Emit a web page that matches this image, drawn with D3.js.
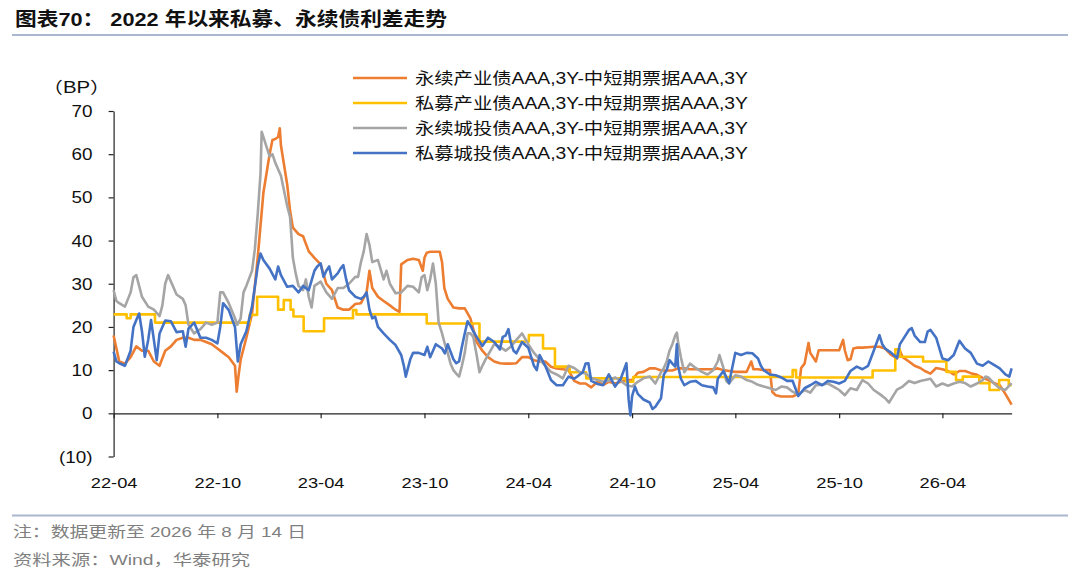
<!DOCTYPE html>
<html><head><meta charset="utf-8">
<script src="https://cdn.jsdelivr.net/npm/d3@7/dist/d3.min.js"></script>
<style>body{margin:0;background:#fff}svg{display:block}</style>
</head><body>
<svg id="chart" width="1080" height="577"></svg>
<script>
const titleText = "图表70： 2022 年以来私募、永续债利差走势";
const noteText = "注：数据更新至 2026 年 8 月 14 日";
const sourceText = "资料来源：Wind，华泰研究";
const unitText = "（BP）";
const seriesNames = ["永续产业债AAA,3Y-中短期票据AAA,3Y","私募产业债AAA,3Y-中短期票据AAA,3Y","永续城投债AAA,3Y-中短期票据AAA,3Y","私募城投债AAA,3Y-中短期票据AAA,3Y"];
const seriesColors = ["#ED7D31","#FFC000","#A5A5A5","#4472C4"];
const yTickValues = [70,60,50,40,30,20,10,0,-10];
const xTickDates = ["2022-04-01","2022-10-01","2023-04-01","2023-10-01","2024-04-01","2024-10-01","2025-04-01","2025-10-01","2026-04-01"];
const xTickLabels = ["22-04","22-10","23-04","23-10","24-04","24-10","25-04","25-10","26-04"];
const xDomain = ["2022-04-01","2026-08-01"];

const perpIndustrial = [["2022-04-01",18],["2022-04-11",12],["2022-04-21",11.5],["2022-05-01",13],["2022-05-11",15.5],["2022-05-21",14.5],["2022-06-01",14.5],["2022-06-11",12],["2022-06-21",11],["2022-07-01",14.5],["2022-07-11",15.5],["2022-07-21",17],["2022-08-01",17.5],["2022-08-11",17.5],["2022-08-21",17],["2022-09-01",17],["2022-09-11",16.5],["2022-09-21",16],["2022-10-01",15],["2022-10-11",14],["2022-10-21",13],["2022-11-01",11],["2022-11-04",5],["2022-11-07",8.5],["2022-11-11",12.4],["2022-11-21",17.5],["2022-12-01",23],["2022-12-11",36],["2022-12-21",51],["2023-01-01",60],["2023-01-06",63.3],["2023-01-11",63.5],["2023-01-16",64],["2023-01-19",66],["2023-01-21",62],["2023-02-01",53],["2023-02-06",47],["2023-02-11",43],["2023-02-21",41.5],["2023-03-01",41],["2023-03-11",37.5],["2023-03-21",36],["2023-04-01",34.5],["2023-04-11",30],["2023-04-21",28.5],["2023-05-01",24.5],["2023-05-11",24],["2023-05-21",24],["2023-06-01",25.3],["2023-06-11",25.5],["2023-06-21",28],["2023-06-26",33],["2023-07-01",29],["2023-07-11",27],["2023-07-21",26],["2023-08-01",25],["2023-08-11",24],["2023-08-18",23.5],["2023-08-21",34.5],["2023-09-01",35.5],["2023-09-11",35.8],["2023-09-21",35.5],["2023-09-28",33],["2023-10-01",36],["2023-10-05",37.2],["2023-10-11",37.4],["2023-10-21",37.4],["2023-10-28",37.4],["2023-11-01",35],["2023-11-05",29],["2023-11-11",26.5],["2023-11-21",24.5],["2023-12-01",24.3],["2023-12-11",24.3],["2023-12-21",22],["2024-01-01",16.5],["2024-01-11",14.5],["2024-01-21",13],["2024-02-01",12],["2024-02-11",11.6],["2024-02-21",11.5],["2024-03-01",11.5],["2024-03-11",11.6],["2024-03-21",13],["2024-04-01",13],["2024-04-11",12.3],["2024-04-21",12],["2024-05-01",12],["2024-05-11",10.8],["2024-05-21",10.4],["2024-06-01",10.2],["2024-06-11",10],["2024-06-21",7.5],["2024-07-01",6.9],["2024-07-11",6.9],["2024-07-21",6],["2024-08-01",7.3],["2024-08-11",6.6],["2024-08-21",7.3],["2024-09-01",6.9],["2024-09-11",7.3],["2024-09-21",7.7],["2024-10-01",7.7],["2024-10-11",9.4],["2024-10-21",9.6],["2024-11-01",10.4],["2024-11-11",10.4],["2024-11-21",9.9],["2024-12-01",9.9],["2024-12-11",9.9],["2024-12-21",10.4],["2025-01-01",10.4],["2025-01-11",10.2],["2025-01-21",10.2],["2025-02-01",10.2],["2025-02-11",10.2],["2025-02-21",10.2],["2025-03-01",10.4],["2025-03-11",10],["2025-03-21",9.8],["2025-04-01",9.6],["2025-04-11",9.6],["2025-04-21",9.6],["2025-04-29",12],["2025-05-03",10.2],["2025-05-11",10.2],["2025-05-21",10],["2025-06-01",10],["2025-06-05",5],["2025-06-11",4.2],["2025-06-21",3.9],["2025-07-01",3.9],["2025-07-11",3.9],["2025-07-21",4.5],["2025-07-26",10.5],["2025-08-01",11.5],["2025-08-08",16.3],["2025-08-11",14],["2025-08-21",12],["2025-08-26",14.6],["2025-09-01",14.6],["2025-09-11",14.6],["2025-09-21",14.6],["2025-10-01",14.6],["2025-10-08",17],["2025-10-11",14.6],["2025-10-16",12.3],["2025-10-21",12.5],["2025-10-26",15],["2025-11-01",15.2],["2025-11-11",15.2],["2025-11-21",15.3],["2025-12-01",15.4],["2025-12-11",15.4],["2025-12-21",15],["2026-01-01",13.5],["2026-01-11",12.7],["2026-01-16",14.5],["2026-01-21",13],["2026-02-01",12],["2026-02-11",11],["2026-02-21",10.5],["2026-03-01",9.8],["2026-03-11",9.2],["2026-03-21",10.5],["2026-04-01",10.2],["2026-04-11",9.8],["2026-04-21",9],["2026-05-01",9.8],["2026-05-11",9.8],["2026-05-21",9.3],["2026-06-01",8.9],["2026-06-11",8.2],["2026-06-21",7.7],["2026-07-01",7],["2026-07-11",6.5],["2026-07-21",4.5],["2026-08-01",2]];

const privIndustrial = [["2022-04-01",22.9],["2022-04-24",22],["2022-05-01",22.9],["2022-06-13",21],["2022-11-27",22.8],["2022-12-10",27],["2023-01-16",24],["2023-01-26",26.2],["2023-02-07",24],["2023-02-12",22.4],["2023-03-02",19],["2023-04-07",22],["2023-05-28",23.9],["2023-06-03",22.9],["2023-10-05",20.8],["2024-01-06",16.6],["2024-04-02",18.1],["2024-04-27",15],["2024-05-18",10.8],["2024-06-13",9.5],["2024-07-12",8.1],["2024-09-21",7.3],["2024-10-03",8.4],["2025-07-11",10],["2025-07-17",8.3],["2025-11-29",9.9],["2026-01-08",14.8],["2026-01-16",13.1],["2026-02-26",12],["2026-04-08",9.6],["2026-04-25",7.7],["2026-05-07",8.5],["2026-06-05",7],["2026-06-23",5.4],["2026-07-10",7.7],["2026-07-27",6.5],["2026-08-01",6.5]];

const perpUrban = [["2022-04-01",28.5],["2022-04-06",26],["2022-04-11",25.5],["2022-04-21",24.7],["2022-05-01",28],["2022-05-06",31.5],["2022-05-11",32],["2022-05-21",27],["2022-06-01",24.7],["2022-06-11",24],["2022-06-21",22.5],["2022-06-26",25],["2022-07-01",30],["2022-07-06",32],["2022-07-11",30.5],["2022-07-21",27.5],["2022-08-01",26.5],["2022-08-06",25],["2022-08-11",20.5],["2022-08-21",18.5],["2022-09-01",19.5],["2022-09-11",21],["2022-09-21",20.5],["2022-10-01",21],["2022-10-06",28],["2022-10-11",28],["2022-10-21",25.5],["2022-11-01",22],["2022-11-05",20.5],["2022-11-11",22],["2022-11-16",28],["2022-11-21",29.5],["2022-12-01",33],["2022-12-06",38],["2022-12-11",46],["2022-12-16",55.5],["2022-12-18",65.2],["2022-12-21",64],["2023-01-01",59.5],["2023-01-06",60],["2023-01-11",58],["2023-01-21",55],["2023-02-01",48],["2023-02-06",45.5],["2023-02-09",40],["2023-02-11",36],["2023-02-16",32.4],["2023-02-21",29.5],["2023-03-01",28.5],["2023-03-06",31],["2023-03-11",27],["2023-03-16",24.5],["2023-03-21",29.5],["2023-04-01",30.5],["2023-04-11",28],["2023-04-21",26.5],["2023-05-01",29],["2023-05-11",29],["2023-05-21",30],["2023-06-01",31.6],["2023-06-06",31.6],["2023-06-11",35],["2023-06-16",37.5],["2023-06-21",41.5],["2023-06-26",39],["2023-07-01",35],["2023-07-11",35.5],["2023-07-21",31],["2023-07-26",33],["2023-08-01",30],["2023-08-11",27.8],["2023-08-21",28],["2023-09-01",29.5],["2023-09-11",29.3],["2023-09-21",28],["2023-09-26",31.5],["2023-10-01",32],["2023-10-06",28.5],["2023-10-11",31],["2023-10-16",34.7],["2023-10-21",30],["2023-10-26",21],["2023-11-01",18.5],["2023-11-06",16],["2023-11-11",14],["2023-11-16",11.5],["2023-11-21",10],["2023-11-26",9.2],["2023-12-01",8.5],["2023-12-06",11],["2023-12-11",14],["2023-12-16",18.5],["2023-12-21",18.5],["2023-12-26",17.7],["2024-01-01",13.5],["2024-01-06",9.5],["2024-01-11",11],["2024-01-16",12.3],["2024-01-21",13.5],["2024-02-01",16],["2024-02-11",15.4],["2024-02-21",14.5],["2024-03-01",15.4],["2024-03-11",17],["2024-03-21",18.5],["2024-04-01",16],["2024-04-11",14],["2024-04-21",12.5],["2024-05-01",11],["2024-05-11",9.6],["2024-05-21",9],["2024-06-01",8.1],["2024-06-11",11],["2024-06-21",10.5],["2024-07-01",9.5],["2024-07-11",9.2],["2024-07-21",8.2],["2024-08-01",7.7],["2024-08-11",7.3],["2024-08-21",7.5],["2024-09-01",8.3],["2024-09-11",7.5],["2024-09-21",6.5],["2024-10-01",6.2],["2024-10-11",7.3],["2024-10-21",8.1],["2024-11-01",8.5],["2024-11-11",6.9],["2024-11-21",9.5],["2024-11-26",10.5],["2024-12-01",12],["2024-12-06",14.5],["2024-12-11",16],["2024-12-16",18],["2024-12-19",18.7],["2024-12-21",16.5],["2024-12-26",13],["2025-01-01",9.5],["2025-01-06",10.5],["2025-01-11",11.5],["2025-01-21",10.5],["2025-02-01",9.6],["2025-02-11",9],["2025-02-21",10],["2025-03-01",12],["2025-03-04",13.5],["2025-03-11",10.5],["2025-03-16",7.5],["2025-03-21",6.9],["2025-04-01",8.8],["2025-04-11",8.5],["2025-04-21",7.7],["2025-05-01",7.3],["2025-05-11",6.6],["2025-05-21",6.2],["2025-06-01",5.8],["2025-06-11",5.4],["2025-06-21",6.2],["2025-07-01",6],["2025-07-11",5],["2025-07-21",4.3],["2025-08-01",5.4],["2025-08-11",4.8],["2025-08-21",6.5],["2025-09-01",6.6],["2025-09-11",6.9],["2025-09-21",6.2],["2025-10-01",5.4],["2025-10-11",4.2],["2025-10-21",5.8],["2025-11-01",5.4],["2025-11-11",7.7],["2025-11-21",6.9],["2025-12-01",5.4],["2025-12-11",4.5],["2025-12-21",3.5],["2025-12-28",2.5],["2026-01-05",4.2],["2026-01-11",5.5],["2026-01-21",6.2],["2026-02-01",7.5],["2026-02-11",7],["2026-02-21",7.5],["2026-03-01",7.7],["2026-03-11",8],["2026-03-21",6.2],["2026-04-01",6.9],["2026-04-11",6.4],["2026-04-21",6.9],["2026-05-01",7.3],["2026-05-11",7],["2026-05-21",6.2],["2026-06-01",6.9],["2026-06-11",7.7],["2026-06-16",8.5],["2026-06-21",8.3],["2026-07-01",6.9],["2026-07-11",5.8],["2026-07-21",5.4],["2026-08-01",7]];

const privUrban = [["2022-04-01",14.3],["2022-04-06",12],["2022-04-11",11.6],["2022-04-21",11],["2022-05-01",14.5],["2022-05-06",20],["2022-05-11",21.6],["2022-05-16",23.1],["2022-05-21",19],["2022-05-26",13.1],["2022-06-01",17],["2022-06-06",21.6],["2022-06-11",17],["2022-06-16",12.3],["2022-06-21",18.5],["2022-07-01",21.5],["2022-07-11",21.3],["2022-07-21",18.8],["2022-08-01",19],["2022-08-06",15.4],["2022-08-11",19.6],["2022-08-21",21],["2022-09-01",17.5],["2022-09-11",17.5],["2022-09-21",17],["2022-10-01",16.2],["2022-10-06",20],["2022-10-11",25.5],["2022-10-21",23.9],["2022-11-01",20],["2022-11-06",12],["2022-11-11",16],["2022-11-21",19],["2022-12-01",24.7],["2022-12-06",29.3],["2022-12-11",34],["2022-12-16",37],["2022-12-21",35.5],["2023-01-01",33.5],["2023-01-11",31],["2023-01-16",34],["2023-01-21",32],["2023-02-01",29.3],["2023-02-11",29.5],["2023-02-21",28],["2023-03-01",29.5],["2023-03-11",28.5],["2023-03-21",33],["2023-03-26",34],["2023-04-01",34.7],["2023-04-06",31.6],["2023-04-11",33],["2023-04-16",34],["2023-04-21",31],["2023-05-01",32.4],["2023-05-06",33.5],["2023-05-11",34.3],["2023-05-16",31],["2023-05-21",28.5],["2023-06-01",27],["2023-06-11",26.5],["2023-06-16",27],["2023-06-21",28],["2023-06-26",24],["2023-07-01",22],["2023-07-06",22.4],["2023-07-11",20],["2023-07-21",18.5],["2023-08-01",17],["2023-08-11",15.8],["2023-08-21",13.5],["2023-08-26",10.8],["2023-08-29",8.5],["2023-09-01",10],["2023-09-06",12.5],["2023-09-11",14],["2023-09-21",14],["2023-10-01",13.5],["2023-10-06",15.4],["2023-10-11",13],["2023-10-21",16],["2023-11-01",15],["2023-11-06",13.9],["2023-11-11",16],["2023-11-21",12.5],["2023-11-26",11.6],["2023-12-01",12],["2023-12-06",15.4],["2023-12-11",18.5],["2023-12-16",21.3],["2023-12-21",20.3],["2023-12-26",19],["2024-01-01",17.7],["2024-01-11",15.6],["2024-01-21",17.5],["2024-02-01",16.5],["2024-02-11",14.8],["2024-02-16",17.7],["2024-02-21",18],["2024-02-26",19.5],["2024-03-01",16.5],["2024-03-06",14.5],["2024-03-11",13.9],["2024-03-21",16.5],["2024-04-01",15.2],["2024-04-11",11],["2024-04-16",10],["2024-04-21",13.5],["2024-05-01",11],["2024-05-11",7.7],["2024-05-21",6.5],["2024-06-01",6.5],["2024-06-11",8.5],["2024-06-21",8],["2024-07-01",9],["2024-07-06",9.5],["2024-07-11",11.5],["2024-07-16",11.6],["2024-07-21",7.5],["2024-08-01",6.8],["2024-08-11",6.5],["2024-08-21",9],["2024-09-01",6.2],["2024-09-11",8],["2024-09-21",11.6],["2024-09-25",3.1],["2024-09-28",-0.5],["2024-10-01",4],["2024-10-06",6.2],["2024-10-11",4.5],["2024-10-21",3.2],["2024-11-01",2.5],["2024-11-06",1],["2024-11-11",1.5],["2024-11-21",3.5],["2024-11-26",9],["2024-12-01",10],["2024-12-06",12.3],["2024-12-11",11.5],["2024-12-16",10.8],["2024-12-19",16],["2024-12-21",11],["2024-12-26",8],["2025-01-01",6.5],["2025-01-11",7.3],["2025-01-21",7.5],["2025-02-01",6.5],["2025-02-11",6.2],["2025-02-21",6],["2025-02-26",4.6],["2025-03-01",8],["2025-03-11",9.8],["2025-03-21",7],["2025-04-01",14],["2025-04-11",13.5],["2025-04-21",14],["2025-05-01",13.9],["2025-05-11",12.7],["2025-05-16",11],["2025-05-21",10],["2025-06-01",9],["2025-06-11",8.8],["2025-06-21",8.3],["2025-07-01",7.5],["2025-07-11",7.5],["2025-07-21",4],["2025-08-01",5.8],["2025-08-11",6.5],["2025-08-21",7.3],["2025-09-01",6.5],["2025-09-11",7.5],["2025-09-21",7.3],["2025-10-01",6.9],["2025-10-11",7.5],["2025-10-21",9.8],["2025-11-01",10.8],["2025-11-11",10.2],["2025-11-21",11],["2025-12-01",14.5],["2025-12-11",18.1],["2025-12-16",16],["2025-12-21",15],["2026-01-01",14],["2026-01-11",12.8],["2026-01-16",16],["2026-01-21",17],["2026-02-01",19.3],["2026-02-06",19.7],["2026-02-11",18],["2026-02-21",16.5],["2026-03-01",16.5],["2026-03-06",18.9],["2026-03-11",19.3],["2026-03-21",17.5],["2026-04-01",12.7],["2026-04-11",12.3],["2026-04-21",13.5],["2026-05-01",16.8],["2026-05-11",15],["2026-05-21",14],["2026-06-01",11.5],["2026-06-11",11],["2026-06-21",12],["2026-07-01",11.2],["2026-07-11",10.4],["2026-07-21",9],["2026-07-28",8.5],["2026-08-01",10.4]];

const seriesData = [perpIndustrial, privIndustrial, perpUrban, privUrban];
const seriesStep = [false, true, false, false];

// ---- rendering ----
const SX = 1.18;
const FONT = "'Liberation Sans', Arial, 'Noto Sans CJK SC', sans-serif";
const parse = d3.utcParse("%Y-%m-%d");
const svg = d3.select("#chart");

const x = d3.scaleUtc().domain(xDomain.map(parse)).range([113.6, 1011.6]);
const y = d3.scaleLinear().domain([-10, 70]).range([456.5, 111]);

// title + separators
svg.append("text").attr("x", 15).attr("y", 26)
  .attr("textLength", 432).attr("lengthAdjust", "spacingAndGlyphs")
  .attr("font-family", FONT).attr("font-size", 19).attr("font-weight", "bold").attr("fill", "#111")
  .text(titleText);
svg.append("line").attr("x1", 12).attr("x2", 1068).attr("y1", 35).attr("y2", 35)
  .attr("stroke", "#A9B8CF").attr("stroke-width", 2);
svg.append("line").attr("x1", 12).attr("x2", 1068).attr("y1", 515.5).attr("y2", 515.5)
  .attr("stroke", "#A9B8CF").attr("stroke-width", 2);

// axes
const yAxis = d3.axisLeft(y).tickValues(yTickValues).tickSize(5).tickSizeOuter(0)
  .tickFormat(v => v < 0 ? `(${-v})` : `${v}`);
const gy = svg.append("g").attr("transform", `translate(${x.range()[0]},0)`).call(yAxis);
gy.selectAll(".tick text").attr("x", -21 / SX).attr("dy", "0.35em")
  .attr("transform", `scale(${SX},1)`).attr("font-size", 16).attr("font-family", FONT).attr("fill", "#111");

const xAxis = d3.axisBottom(x).tickValues(xTickDates.map(parse)).tickSize(5).tickSizeOuter(0)
  .tickFormat((d, i) => xTickLabels[i]);
const gx = svg.append("g").attr("transform", `translate(0,${y(0)})`).call(xAxis);
gx.selectAll(".tick text").attr("x", 0).attr("y", y(-10) - y(0) + 26).attr("dy", "0.35em")
  .attr("transform", `scale(${SX},1)`).attr("font-size", 15.5).attr("font-family", FONT).attr("fill", "#111");
[gx, gy].forEach(g => { g.selectAll("path, line").attr("stroke", "#222").attr("stroke-width", 1.2); });

// unit
svg.append("text").attr("x", 76.5).attr("y", 87.5).attr("text-anchor", "middle")
  .attr("textLength", 68).attr("lengthAdjust", "spacingAndGlyphs")
  .attr("dy", "0.35em").attr("font-family", FONT).attr("font-size", 16).attr("fill", "#111").text(unitText);

// lines
const line = d3.line().x(d => x(parse(d[0]))).y(d => y(d[1]));
const stepLine = d3.line().x(d => x(parse(d[0]))).y(d => y(d[1])).curve(d3.curveStepAfter);
seriesData.forEach((data, i) => {
  svg.append("path").datum(data)
    .attr("d", seriesStep[i] ? stepLine : line)
    .attr("fill", "none").attr("stroke", seriesColors[i]).attr("stroke-width", 2.6)
    .attr("stroke-linejoin", "round");
});

// legend
const lg = svg.append("g");
seriesNames.forEach((name, i) => {
  const ly = 78 + i * 25;
  lg.append("line").attr("x1", 353).attr("x2", 407).attr("y1", ly).attr("y2", ly)
    .attr("stroke", seriesColors[i]).attr("stroke-width", 2.6);
  lg.append("text").attr("x", 415).attr("y", ly).attr("dy", "0.35em")
    .attr("textLength", 333).attr("lengthAdjust", "spacingAndGlyphs")
    .attr("font-family", FONT).attr("font-size", 16).attr("fill", "#111").text(name);
});

// footer
svg.append("text").attr("x", 13).attr("y", 531.5).attr("dy", "0.35em")
  .attr("textLength", 293).attr("lengthAdjust", "spacingAndGlyphs")
  .attr("font-family", FONT).attr("font-size", 15).attr("fill", "#7f7f7f").text(noteText);
svg.append("text").attr("x", 13).attr("y", 559.5).attr("dy", "0.35em")
  .attr("textLength", 237).attr("lengthAdjust", "spacingAndGlyphs")
  .attr("font-family", FONT).attr("font-size", 15).attr("fill", "#7f7f7f").text(sourceText);
</script>
</body></html>
